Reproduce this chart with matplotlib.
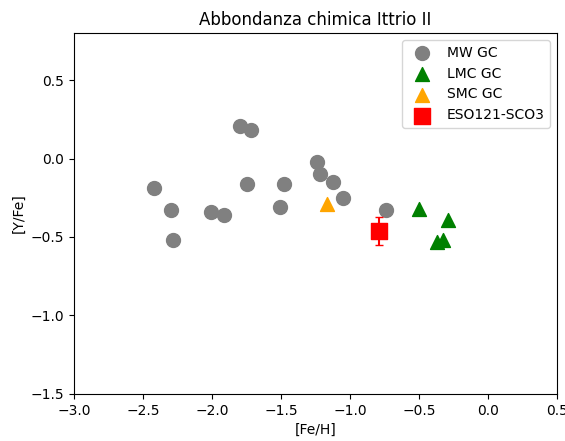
import matplotlib
matplotlib.use("Agg")
import matplotlib.pyplot as plt

# MW globular clusters
mw_feh = [-2.42, -2.30, -2.28, -2.01, -1.91, -1.80, -1.72, -1.75, -1.48, -1.51, -1.24, -1.22, -1.12, -1.05, -0.74]
mw_yfe = [-0.19, -0.33, -0.52, -0.34, -0.36, 0.21, 0.18, -0.165, -0.165, -0.31, -0.02, -0.10, -0.15, -0.25, -0.33]

# LMC globular clusters
lmc_feh = [-0.50, -0.29, -0.37, -0.33]
lmc_yfe = [-0.32, -0.39, -0.53, -0.52]

# SMC globular cluster
smc_feh = [-1.17]
smc_yfe = [-0.29]

# ESO121-SC03
eso_feh = [-0.79]
eso_yfe = [-0.46]
eso_err = [0.09]

fig = plt.figure(figsize=(5.65, 4.41), dpi=100)
ax = fig.add_axes([0.131, 0.107, 0.855, 0.818])

ax.scatter(mw_feh, mw_yfe, s=100, color="gray", label="MW GC")
ax.scatter(lmc_feh, lmc_yfe, s=100, marker="^", color="green", label="LMC GC")
ax.scatter(smc_feh, smc_yfe, s=100, marker="^", color="orange", label="SMC GC")
ax.errorbar(eso_feh, eso_yfe, yerr=eso_err, fmt="none", ecolor="red", capsize=3)
ax.scatter(eso_feh, eso_yfe, s=130, marker="s", color="red", label="ESO121-SCO3")

ax.set_xlim(-3.0, 0.5)
ax.set_ylim(-1.5, 0.8)
ax.set_xlabel("[Fe/H]")
ax.set_ylabel("[Y/Fe]")
ax.set_title("Abbondanza chimica Ittrio II")
ax.legend(loc="upper right")

fig.savefig("out.png", dpi=100)
